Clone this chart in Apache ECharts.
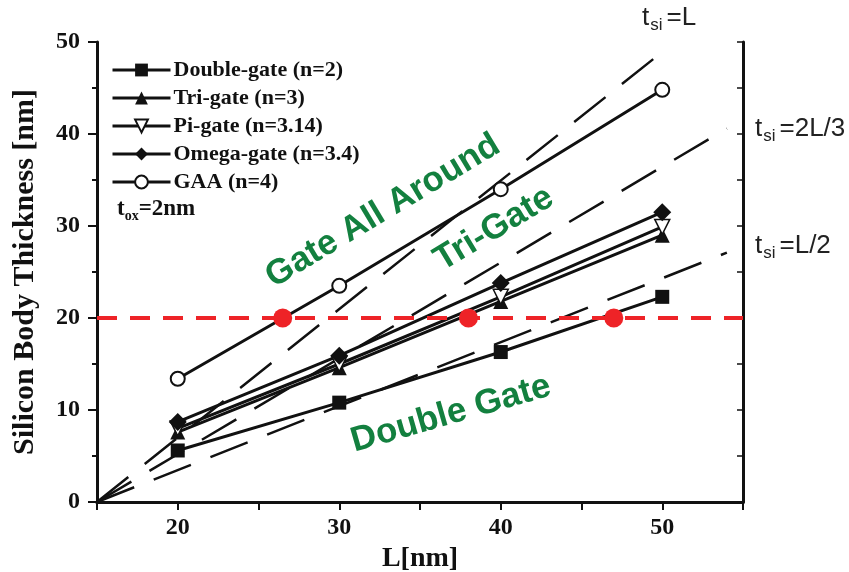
<!DOCTYPE html>
<html>
<head>
<meta charset="utf-8">
<script src="https://cdn.jsdelivr.net/npm/echarts@6/dist/echarts.min.js"></script>
<style>
  html, body { margin: 0; padding: 0; background: #fff; }
  #chart { width: 849px; height: 572px; }
</style>
</head>
<body>
<div id="chart"></div>
<script>
// gate length (x) and silicon body thickness per gate type (y)
const lengths = [20, 30, 40, 50];
const doubleGate = [5.6, 10.8, 16.3, 22.3];
const triGate = [7.6, 14.6, 21.8, 29.0];
const piGate = [8.0, 15.0, 22.3, 29.9];
const omegaGate = [8.7, 15.9, 23.8, 31.5];
const gaa = [13.4, 23.5, 34.0, 44.8];

// guide lines t_si = L, 2L/3, L/2 (start and end points)
const guideL = [[15, 0], [50.2, 49.2]];
const guide2L3 = [[15, 0], [54, 40.6]];
const guideL2 = [[15, 0], [54, 27.1]];

// t_si = 20 nm limit and its crossings
const limitLine = [[15, 20], [55, 20]];
const crossings = [[26.5, 20], [38, 20], [47, 20]];

const xTicks = [15, 55, 5];
const yTicks = [0, 50, 10];

const serif = 'Liberation Serif';
const sans = 'Liberation Sans';
const green = '#13803f';
const red = '#ee2327';

const pair = ys => lengths.map((x, i) => [x, ys[i]]);

function dataSeries(name, ys, symbol, size, extra) {
    return Object.assign({
        name: name,
        type: 'line',
        data: pair(ys),
        symbol: symbol,
        symbolSize: size,
        z: 5,
        lineStyle: { color: '#111', width: 3 },
        itemStyle: { color: '#111' }
    }, extra || {});
}

function guideSeries(pts) {
    return {
        type: 'line',
        data: pts,
        symbol: 'none',
        z: 3,
        silent: true,
        lineStyle: { color: '#111', width: 2.5, type: [40, 21] }
    };
}

const subLabel = (left, top, text) => ({
    type: 'text', left: left, top: top,
    style: {
        text: text,
        rich: {
            a: { fontFamily: sans, fontSize: 26, fill: '#222' },
            s: { fontFamily: sans, fontSize: 17, fill: '#222', padding: [14, 4, 0, 1] }
        }
    }
});

const regionLabel = (text, x, y, deg) => ({
    type: 'text', x: x, y: y, rotation: deg * Math.PI / 180,
    style: {
        text: text, align: 'center', verticalAlign: 'middle',
        font: 'bold 35px "Liberation Sans"', fill: green
    }
});

const chart = echarts.init(document.getElementById('chart'));

const option = {
    backgroundColor: '#fff',
    animation: false,
    grid: { left: 97, top: 42, right: 106, bottom: 70, outerBoundsMode: 'none' },
    legend: {
        orient: 'vertical',
        left: 106,
        top: 54,
        itemWidth: 58,
        itemHeight: 16,
        itemGap: 6,
        lineStyle: { width: 3 },
        data: ['Double-gate (n=2)', 'Tri-gate (n=3)', 'Pi-gate (n=3.14)', 'Omega-gate (n=3.4)', 'GAA (n=4)'],
        textStyle: { fontFamily: serif, fontWeight: 'bold', fontSize: 22, lineHeight: 21, color: '#111', padding: [0, 0, 0, -2] }
    },
    xAxis: [{
        type: 'value',
        min: xTicks[0], max: xTicks[1], interval: xTicks[2],
        name: 'L[nm]',
        nameLocation: 'middle',
        nameGap: 42,
        nameTextStyle: { fontFamily: serif, fontWeight: 'bold', fontSize: 28, color: '#111' },
        axisLine: { lineStyle: { color: '#111', width: 3 } },
        axisTick: { length: 8, lineStyle: { color: '#111', width: 2 } },
        axisLabel: {
            margin: 14,
            fontFamily: serif, fontWeight: 'bold', fontSize: 24, color: '#111',
            formatter: v => (v % 10 === 0 ? v : '')
        },
        splitLine: { show: false }
    }, {
        type: 'value',
        position: 'top',
        min: xTicks[0], max: xTicks[1], interval: xTicks[2],
        axisLine: { lineStyle: { color: '#111', width: 3 } },
        axisTick: { inside: true, length: 6, lineStyle: { color: '#111', width: 1.5 } },
        axisLabel: { show: false },
        splitLine: { show: false }
    }],
    yAxis: [{
        type: 'value',
        min: yTicks[0], max: yTicks[1], interval: yTicks[2],
        name: 'Silicon Body Thickness [nm]',
        nameLocation: 'middle',
        nameGap: 57,
        nameTextStyle: { fontFamily: serif, fontWeight: 'bold', fontSize: 30, color: '#111' },
        axisLine: { lineStyle: { color: '#111', width: 3 } },
        axisTick: { length: 9, lineStyle: { color: '#111', width: 2 } },
        minorTick: { show: true, splitNumber: 2, length: 5, lineStyle: { color: '#111', width: 2 } },
        axisLabel: { margin: 17, fontFamily: serif, fontWeight: 'bold', fontSize: 24, color: '#111' },
        splitLine: { show: false }
    }, {
        type: 'value',
        position: 'right',
        min: yTicks[0], max: yTicks[1], interval: 5,
        axisLine: { lineStyle: { color: '#111', width: 3 } },
        axisTick: { inside: true, length: 6, lineStyle: { color: '#111', width: 1.5 } },
        axisLabel: { show: false },
        splitLine: { show: false }
    }],
    series: [
        guideSeries(guideL),
        guideSeries(guide2L3),
        guideSeries(guideL2),
        dataSeries('Double-gate (n=2)', doubleGate, 'rect', 14),
        dataSeries('Tri-gate (n=3)', triGate, 'triangle', 15),
        dataSeries('Pi-gate (n=3.14)', piGate, 'triangle', 15, {
            symbolRotate: 180,
            itemStyle: { color: '#fff', borderColor: '#111', borderWidth: 1.5 }
        }),
        dataSeries('Omega-gate (n=3.4)', omegaGate, 'diamond', 18),
        dataSeries('GAA (n=4)', gaa, 'circle', 14, {
            itemStyle: { color: '#fff', borderColor: '#111', borderWidth: 2 }
        }),
        {
            type: 'line',
            data: limitLine,
            symbol: 'none',
            z: 6,
            silent: true,
            lineStyle: { color: red, width: 4, type: [20, 13] }
        },
        {
            type: 'scatter',
            data: crossings,
            symbolSize: 19,
            z: 7,
            itemStyle: { color: red, opacity: 1 }
        }
    ],
    graphic: [
        subLabel(642, 5, '{a|t}{s|si}{a|=L}'),
        subLabel(755, 116, '{a|t}{s|si}{a|=2L/3}'),
        subLabel(755, 233, '{a|t}{s|si}{a|=L/2}'),
        {
            type: 'text', left: 117, top: 198,
            style: {
                text: '{a|t}{s|ox}{a|=2nm}',
                rich: {
                    a: { fontFamily: serif, fontWeight: 'bold', fontSize: 23, fill: '#111' },
                    s: { fontFamily: serif, fontWeight: 'bold', fontSize: 14, fill: '#111', padding: [13, 0, 0, 0] }
                }
            }
        },
        regionLabel('Gate All Around', 383, 211, 31),
        regionLabel('Tri-Gate', 494, 229, 31),
        regionLabel('Double Gate', 451, 414, 16)
    ]
};

chart.setOption(option);
</script>
</body>
</html>
